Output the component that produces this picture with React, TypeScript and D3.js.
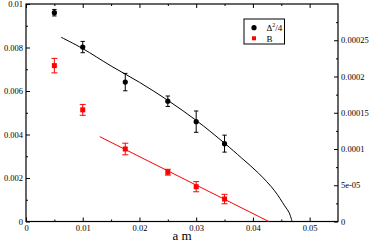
import React, { useEffect, useRef } from 'react';
import * as d3 from 'd3';

// quark mass values (a m)
const amValues = [0.005, 0.01, 0.0175, 0.025, 0.03, 0.035];

// Delta^2/4 (left axis)
const deltaValues = [0.0096, 0.00802, 0.00641, 0.00553, 0.00459, 0.00358];
const deltaErrors = [0.00015, 0.00026, 0.0004, 0.00024, 0.00049, 0.00039];

// B (right axis)
const bValues = [0.000215, 0.000154, 0.0001, 0.000068, 0.000048, 0.000031];
const bErrors = [0.00001, 0.0000075, 0.000008, 0.000004, 0.000007, 0.0000065];

// fit curve for Delta^2/4
const deltaFitX = [0.0062, 0.01, 0.015, 0.02, 0.025, 0.03, 0.035, 0.038, 0.041, 0.0438, 0.0456, 0.0464, 0.0469];
const deltaFitY = [0.00847, 0.00795, 0.00715, 0.0064, 0.00557, 0.00465, 0.0036, 0.00292, 0.00222, 0.00142, 0.00072, 0.0004, 0];

// linear fit for B
const bFitX = [0.013, 0.0428];
const bFitY = [0.000117, 0];

const xTicks = [0, 0.01, 0.02, 0.03, 0.04, 0.05];
const yLeftTicks = [0, 0.002, 0.004, 0.006, 0.008, 0.01];
const yRightTicks = [0, 0.00005, 0.0001, 0.00015, 0.0002, 0.00025];
const yRightLabels = ['0', '5e-05', '0.0001', '0.00015', '0.0002', '0.00025'];

const App: React.FC = () => {
  const svgRef = useRef<SVGSVGElement>(null);

  useEffect(() => {
    const svg = d3.select(svgRef.current);
    svg.selectAll('*').remove();

    const W = 374;
    const H = 243;
    const margin = { top: 4, right: 36, bottom: 21.5, left: 26 };
    const width = W - margin.left - margin.right;
    const height = H - margin.top - margin.bottom;
    const font = '"Liberation Serif", "DejaVu Serif", serif';
    const red = '#ff0000';

    svg.attr('width', W).attr('height', H).style('background', 'white');

    const g = svg.append('g').attr('transform', `translate(${margin.left},${margin.top})`);

    const x = d3.scaleLinear().domain([0, 0.055]).range([0, width]);
    const yL = d3.scaleLinear().domain([0, 0.01]).range([height, 0]);
    const yR = d3.scaleLinear().domain([0, 0.0003]).range([height, 0]);

    const xMinor = d3.range(0.005, 0.055, 0.01);
    const yLMinor = d3.range(0.001, 0.01, 0.002);
    const yRMinor = d3.range(0.000025, 0.0003, 0.00005);

    const styleAxis = (sel: any) => {
      sel.select('.domain').remove();
      sel.selectAll('line').attr('stroke', '#000').attr('stroke-width', 1);
      sel.selectAll('text')
        .attr('fill', '#000')
        .style('font-family', font)
        .style('font-size', '8.5px');
    };

    // bottom axis (ticks pointing inside)
    const bottom = g.append('g').attr('transform', `translate(0,${height})`);
    bottom.call(d3.axisBottom(x).tickValues(xTicks).tickSizeInner(-4).tickSizeOuter(0).tickPadding(3.5)
      .tickFormat(d => d3.format('')(+d)));
    styleAxis(bottom);
    bottom.append('g').call(d3.axisBottom(x).tickValues(xMinor).tickSizeInner(-2).tickSizeOuter(0).tickFormat(() => ''))
      .call(styleAxis);

    // top axis
    const top = g.append('g');
    top.call(d3.axisTop(x).tickValues(xTicks).tickSizeInner(-4).tickSizeOuter(0).tickFormat(() => ''));
    styleAxis(top);
    top.append('g').call(d3.axisTop(x).tickValues(xMinor).tickSizeInner(-2).tickSizeOuter(0).tickFormat(() => ''))
      .call(styleAxis);

    // left axis
    const left = g.append('g');
    left.call(d3.axisLeft(yL).tickValues(yLeftTicks).tickSizeInner(-4).tickSizeOuter(0).tickPadding(3)
      .tickFormat(d => d3.format('')(+d)));
    styleAxis(left);
    left.append('g').call(d3.axisLeft(yL).tickValues(yLMinor).tickSizeInner(-2).tickSizeOuter(0).tickFormat(() => ''))
      .call(styleAxis);

    // right axis
    const right = g.append('g').attr('transform', `translate(${width},0)`);
    right.call(d3.axisRight(yR).tickValues(yRightTicks).tickSizeInner(-4).tickSizeOuter(0).tickPadding(3)
      .tickFormat((d, i) => yRightLabels[i]));
    styleAxis(right);
    right.append('g').call(d3.axisRight(yR).tickValues(yRMinor).tickSizeInner(-2).tickSizeOuter(0).tickFormat(() => ''))
      .call(styleAxis);

    // frame
    g.append('rect')
      .attr('width', width)
      .attr('height', height)
      .attr('fill', 'none')
      .attr('stroke', '#000')
      .attr('stroke-width', 1.2);

    // fit lines
    const fitLine = d3.line<[number, number]>().curve(d3.curveCatmullRom.alpha(0.5));

    g.append('path')
      .datum(deltaFitX.map((v, i) => [x(v), yL(deltaFitY[i])] as [number, number]))
      .attr('fill', 'none')
      .attr('stroke', '#000')
      .attr('stroke-width', 1)
      .attr('d', fitLine);

    g.append('path')
      .datum(bFitX.map((v, i) => [x(v), yR(bFitY[i])] as [number, number]))
      .attr('fill', 'none')
      .attr('stroke', red)
      .attr('stroke-width', 1)
      .attr('d', fitLine);

    // error bars
    const errBars = (vals: number[], errs: number[], y: d3.ScaleLinear<number, number>, color: string, cap: number) => {
      const eg = g.append('g').attr('stroke', color).attr('stroke-width', 1);
      amValues.forEach((am, i) => {
        const cx = x(am);
        const y0 = y(vals[i] - errs[i]);
        const y1 = y(vals[i] + errs[i]);
        eg.append('line').attr('x1', cx).attr('x2', cx).attr('y1', y0).attr('y2', y1);
        eg.append('line').attr('x1', cx - cap).attr('x2', cx + cap).attr('y1', y0).attr('y2', y0);
        eg.append('line').attr('x1', cx - cap).attr('x2', cx + cap).attr('y1', y1).attr('y2', y1);
      });
    };
    errBars(deltaValues, deltaErrors, yL, '#000', 2.2);
    errBars(bValues, bErrors, yR, red, 3);

    // markers
    g.selectAll('.delta-dot')
      .data(amValues)
      .enter()
      .append('circle')
      .attr('class', 'delta-dot')
      .attr('cx', d => x(d))
      .attr('cy', (d, i) => yL(deltaValues[i]))
      .attr('r', 2.6)
      .attr('fill', '#000');

    g.selectAll('.b-dot')
      .data(amValues)
      .enter()
      .append('rect')
      .attr('class', 'b-dot')
      .attr('x', d => x(d) - 2.5)
      .attr('y', (d, i) => yR(bValues[i]) - 2.5)
      .attr('width', 5)
      .attr('height', 5)
      .attr('fill', red);

    // legend
    const legend = g.append('g').attr('transform', `translate(${218},${15})`);
    legend.append('rect')
      .attr('width', 40.5)
      .attr('height', 25)
      .attr('fill', 'white')
      .attr('stroke', '#000')
      .attr('stroke-width', 1);
    legend.append('circle').attr('cx', 10).attr('cy', 8.7).attr('r', 2.6).attr('fill', '#000');
    legend.append('rect').attr('x', 8).attr('y', 17.3).attr('width', 4).attr('height', 4).attr('fill', red);
    const lt = legend.append('text')
      .attr('x', 22.5)
      .attr('y', 12)
      .style('font-family', font)
      .style('font-size', '9px')
      .attr('fill', '#000');
    lt.append('tspan').text('\u0394');
    lt.append('tspan').attr('dy', -4).style('font-size', '6px').text('2');
    lt.append('tspan').attr('dy', 4).text('/4');
    legend.append('text')
      .attr('x', 22.5)
      .attr('y', 22.5)
      .style('font-family', font)
      .style('font-size', '9px')
      .attr('fill', '#000')
      .text('B');

    // x axis label
    g.append('text')
      .attr('x', width / 2)
      .attr('y', height + 18.5)
      .attr('text-anchor', 'middle')
      .style('font-family', font)
      .style('font-size', '13px')
      .attr('fill', '#000')
      .text('a m');
  }, []);

  return (
    <svg ref={svgRef} style={{ position: 'absolute', left: 0, top: 0 }}></svg>
  );
};

export default App;
